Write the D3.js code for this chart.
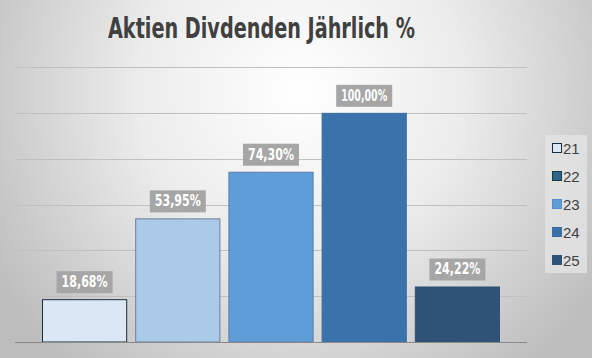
<!DOCTYPE html>
<html><head><meta charset="utf-8">
<script src="https://cdn.jsdelivr.net/npm/d3@7"></script>
<style>html,body{margin:0;padding:0;overflow:hidden;background:#fff}</style>
</head><body>
<script>
const title = "Aktien Divdenden Jährlich %";
const series = ["21", "22", "23", "24", "25"];
const values = [18.68, 53.95, 74.30, 100.00, 24.22];
const labels = ["18,68%", "53,95%", "74,30%", "100,00%", "24,22%"];
const barColors = ["#dce7f5", "#abcaea", "#5f9dd8", "#3a73ab", "#2f5277"];
const barStrokes = ["#1e2a3a", "#6f7f90", "#5a7fa6", "#3a6c9e", "#2f5277"];
const legendColors = ["#dce7f5", "#2c6787", "#5f9dd8", "#3a73ab", "#2f5277"];
const legendStrokes = ["#1e2a3a", "#1e3a4a", "#5a8fc6", "#3a6c9e", "#2f5277"];
const yTicks = [0, 20, 40, 60, 80, 100, 120];

const W = 592, H = 358;
const FONT = "'DejaVu Sans Condensed','Liberation Sans Narrow',Arial,sans-serif";
const svg = d3.select("body").append("svg").attr("width", W).attr("height", H);

const defs = svg.append("defs");
const rg = defs.append("radialGradient").attr("id", "bg")
  .attr("gradientUnits", "userSpaceOnUse")
  .attr("cx", 300).attr("cy", 90).attr("r", 360);
rg.append("stop").attr("offset", "0").attr("stop-color", "#ffffff");
rg.append("stop").attr("offset", "0.45").attr("stop-color", "#ececec");
rg.append("stop").attr("offset", "1").attr("stop-color", "#bdbdbd");
svg.append("rect").attr("width", W).attr("height", H).attr("fill", "url(#bg)");

const plot = {left: 15, right: 527, top: 67, bottom: 342};
const y = d3.scaleLinear().domain([0, 120]).range([plot.bottom, plot.top]);
const x = d3.scaleBand().domain(series).range([42, 500]).paddingInner(0.086).paddingOuter(0);

// gridlines
svg.append("g").selectAll("line").data(yTicks.filter(t => t > 0)).join("line")
  .attr("x1", plot.left).attr("x2", plot.right)
  .attr("y1", d => Math.round(y(d)) + 0.5).attr("y2", d => Math.round(y(d)) + 0.5)
  .attr("stroke", "#c0c0c0").attr("stroke-width", 1);

// bars
svg.append("g").selectAll("rect").data(values).join("rect")
  .attr("x", (d, i) => x(series[i]) + 0.5)
  .attr("y", d => y(d) + 0.5)
  .attr("width", x.bandwidth() - 1)
  .attr("height", d => y(0) - y(d) - 0.5)
  .attr("fill", (d, i) => barColors[i])
  .attr("stroke", (d, i) => barStrokes[i]).attr("stroke-width", 1);

// baseline
svg.append("line").attr("x1", plot.left).attr("x2", plot.right)
  .attr("y1", Math.round(y(0)) + 0.5).attr("y2", Math.round(y(0)) + 0.5)
  .attr("stroke", "#8a8a8a").attr("stroke-width", 1);

// data labels
const lg = svg.append("g").selectAll("g").data(values).join("g");
lg.each(function(d, i) {
  const g = d3.select(this);
  const cx = x(series[i]) + x.bandwidth() / 2;
  const by = y(d) - 6;
  g.append("rect").attr("x", cx - 28).attr("y", by - 22)
    .attr("width", 56).attr("height", 22).attr("fill", "#a6a6a6");
  g.append("text").attr("x", cx).attr("y", by - 6)
    .attr("text-anchor", "middle")
    .attr("font-family", FONT)
    .attr("font-weight", "bold").attr("font-size", 15).attr("fill", "#ffffff")
    .attr("textLength", 46).attr("lengthAdjust", "spacingAndGlyphs")
    .text(labels[i]);
});

// title
svg.append("text").attr("x", 261.5).attr("y", 38).attr("text-anchor", "middle")
  .attr("font-family", FONT)
  .attr("font-weight", "bold").attr("font-size", 27.5).attr("fill", "#404040")
  .attr("textLength", 307).attr("lengthAdjust", "spacingAndGlyphs")
  .text(title);

// legend
const leg = svg.append("g");
leg.append("rect").attr("x", 545).attr("y", 135).attr("width", 42).attr("height", 138)
  .attr("fill", "#e4e4e4").attr("opacity", 0.8);
const li = leg.selectAll("g").data(series).join("g")
  .attr("transform", (d, i) => `translate(552,${148 + i * 28})`);
li.append("rect").attr("x", 0.5).attr("y", -4.5).attr("width", 9).attr("height", 9)
  .attr("fill", (d, i) => legendColors[i]).attr("stroke", (d, i) => legendStrokes[i]);
li.append("text").attr("x", 11).attr("y", 5.5)
  .attr("font-family", "'Liberation Sans',Arial,sans-serif").attr("font-size", 15)
  .attr("fill", "#404040").text(d => d);
</script>
</body></html>
